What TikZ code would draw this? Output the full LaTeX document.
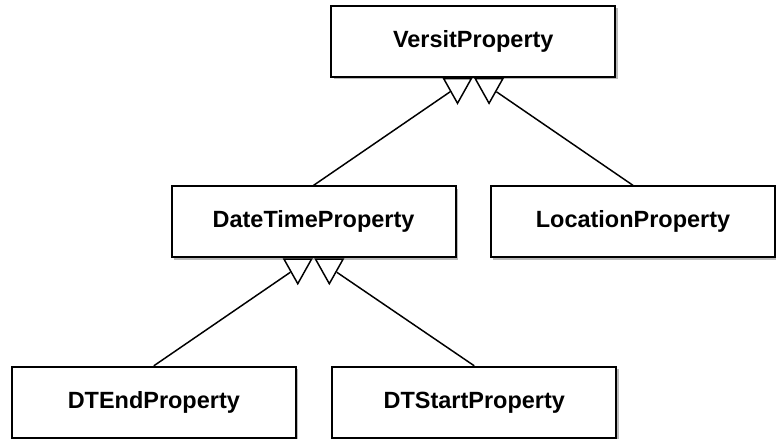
\documentclass[tikz,border=0pt]{standalone}
\usepackage{fontspec}
\setmainfont{Liberation Sans}
\usepackage{tikz}
\usetikzlibrary{shapes.geometric,positioning,shadows}
\tikzset{
  cls/.style={
    rectangle, draw=black, fill=white, line width=1pt,
    minimum width=144pt, minimum height=36pt,
    font=\fontsize{11.9}{14}\selectfont\bfseries,
    drop shadow={shadow xshift=1.2pt, shadow yshift=-1.2pt,
                 fill=black!60, opacity=0.45}
  },
  gentri/.style={
    isosceles triangle, isosceles triangle stretches,
    shape border rotate=270, draw=black, fill=white,
    line width=0.75pt, inner sep=0pt,
    minimum width=14pt, minimum height=12.5pt
  },
  inherit/.style={line width=0.75pt, draw=black}
}
\begin{document}
\begin{tikzpicture}[node distance=54.5pt]
  \node[cls]                            (vp)  {VersitProperty};
  \node[cls, below=of vp, xshift=-81pt] (dt)  {DateTimeProperty};
  \node[cls, below=of vp, xshift=81pt]  (loc) {LocationProperty};
  \node[cls, below=of dt, xshift=-81pt] (dte) {DTEndProperty};
  \node[cls, below=of dt, xshift=81.5pt](dts) {DTStartProperty};

  \useasboundingbox ([xshift=-240pt,yshift=2.5pt]vp.north)
                    rectangle ++(388pt,-221pt);

  % open triangles under the parents
  \node[gentri, below=0pt of vp.south, xshift=-8pt] (vpl) {};
  \node[gentri, below=0pt of vp.south, xshift=8pt]  (vpr) {};
  \node[gentri, below=0pt of dt.south, xshift=-8pt] (dtl) {};
  \node[gentri, below=0pt of dt.south, xshift=8pt]  (dtr) {};

  \foreach \a/\b in {dt/vpl, loc/vpr, dte/dtl, dts/dtr}
    \draw[inherit] (\a.north) -- (\b);
\end{tikzpicture}
\end{document}
